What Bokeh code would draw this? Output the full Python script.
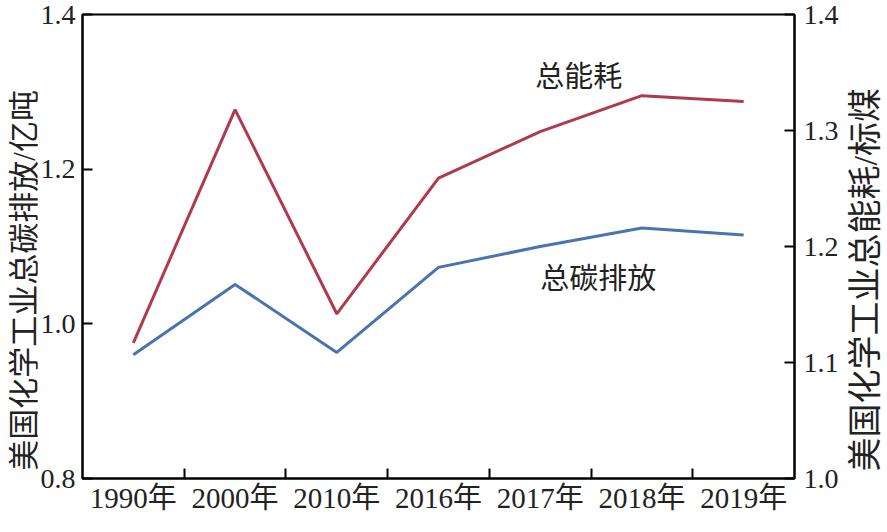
from bokeh.plotting import figure
from bokeh.models import Range1d, LinearAxis, FixedTicker, Label, PrintfTickFormatter, Div
from bokeh.layouts import row
from bokeh.embed import file_html
from bokeh.resources import INLINE

# ---- data ----
years = ["1990年", "2000年", "2010年", "2016年", "2017年", "2018年", "2019年"]
carbon = [0.960, 1.051, 0.963, 1.073, 1.100, 1.124, 1.115]      # 亿吨 (left axis)
energy = [1.117, 1.318, 1.142, 1.259, 1.299, 1.330, 1.325]      # 标煤 (right axis)
left_ticks = [0.8, 1.0, 1.2, 1.4]
right_ticks = [1.0, 1.1, 1.2, 1.3, 1.4]
left_title = "美国化学工业总碳排放/亿吨"
right_title = "美国化学工业总能耗/标煤"

FONT = "Liberation Serif, Noto Sans CJK SC"
RED = "#B03A4B"
BLUE = "#4A73B2"

xs = [i + 0.5 for i in range(len(years))]

p = figure(width=804, height=516, output_backend="svg", toolbar_location=None,
           x_range=Range1d(0, len(years)), y_range=Range1d(0.8, 1.4),
           min_border_left=0, min_border_right=0, min_border_top=14, min_border_bottom=0)
p.extra_y_ranges = {"right": Range1d(1.0, 1.4)}

p.xgrid.visible = False
p.ygrid.visible = False
p.outline_line_color = "black"
p.outline_line_width = 2
p.background_fill_color = "white"
p.border_fill_color = "white"

# x axis: labels at category centres, ticks at category boundaries
xa = p.xaxis[0]
xa.ticker = FixedTicker(ticks=xs, minor_ticks=list(range(1, len(years))))
xa.major_label_overrides = {x: y for x, y in zip(xs, years)}
xa.major_tick_in = 0
xa.major_tick_out = 0
xa.minor_tick_in = 10
xa.minor_tick_out = 0
xa.minor_tick_line_color = "black"
xa.minor_tick_line_width = 2
xa.axis_line_color = "black"
xa.axis_line_width = 2
xa.major_label_text_font = FONT
xa.major_label_text_font_size = "29px"
xa.major_label_text_color = "#222222"
xa.major_label_standoff = 3

# left axis
ya = p.yaxis[0]
ya.ticker = FixedTicker(ticks=left_ticks)
ya.formatter = PrintfTickFormatter(format="%.1f")
ya.major_tick_in = 10
ya.major_tick_out = 0
ya.major_tick_line_width = 2
ya.minor_tick_line_color = None
ya.axis_line_width = 2
ya.axis_line_color = "black"
ya.major_label_text_font = FONT
ya.major_label_text_font_size = "28px"
ya.major_label_text_color = "#222222"
ya.major_label_standoff = 7

# right axis
ra = LinearAxis(y_range_name="right")
ra.ticker = FixedTicker(ticks=right_ticks)
ra.formatter = PrintfTickFormatter(format="%.1f")
ra.major_tick_in = 10
ra.major_tick_out = 0
ra.major_tick_line_width = 2
ra.minor_tick_line_color = None
ra.axis_line_width = 2
ra.axis_line_color = "black"
ra.major_label_text_font = FONT
ra.major_label_text_font_size = "28px"
ra.major_label_text_color = "#222222"
ra.major_label_standoff = 9
p.add_layout(ra, "right")

# lines
p.line(xs, carbon, line_color=BLUE, line_width=3)
p.line(xs, energy, line_color=RED, line_width=3, y_range_name="right")

# series labels
p.add_layout(Label(x=4.88, y=1.346, y_range_name="right", text="总能耗",
                   text_font=FONT, text_font_size="29px", text_color="#222222",
                   text_align="center", text_baseline="middle"))
p.add_layout(Label(x=5.07, y=1.058, text="总碳排放",
                   text_font=FONT, text_font_size="29px", text_color="#222222",
                   text_align="center", text_baseline="middle"))


def vertical_title(text, size, width, shift):
    html = (
        "<div style=\"height: 516px; width: %dpx; box-sizing: border-box; padding-top: 44px; "
        "display: flex; align-items: center; justify-content: center; overflow: visible;\">"
        "<div style=\"writing-mode: vertical-rl; text-orientation: sideways; "
        "transform: rotate(180deg); white-space: nowrap; position: relative; left: %dpx; "
        "font-size: %dpx; line-height: 1; color: #222222; "
        "font-family: 'Liberation Serif', 'Noto Sans CJK SC';\">%s</div></div>"
    ) % (width, shift, size, text)
    return Div(text=html, width=width, height=516, margin=0)


left_div = vertical_title(left_title, 31, 37, 6)
right_div = vertical_title(right_title, 34, 30, 10)

layout = row(left_div, p, right_div, spacing=0)
open("out.html", "w").write(file_html(layout, INLINE))
